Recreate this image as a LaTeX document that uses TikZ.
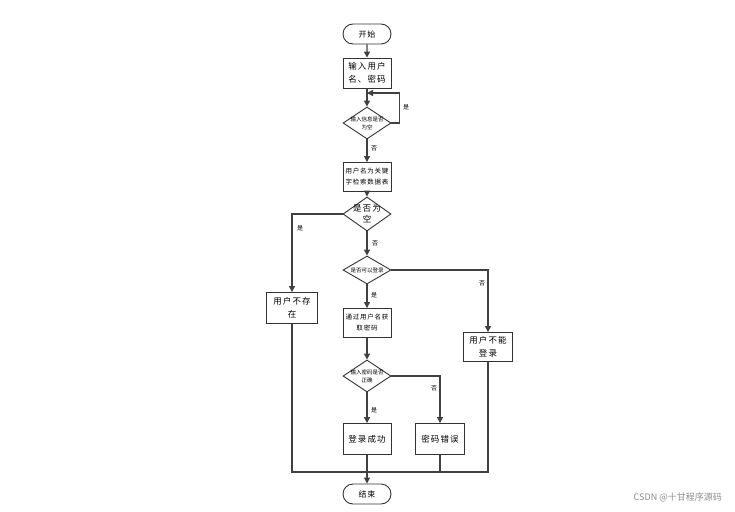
\documentclass[tikz,border=0pt]{standalone}
\usepackage{fontspec}
\setmainfont{Liberation Sans}
\newfontfamily\cjk{Noto Sans CJK SC}[LetterSpace=12]
\newfontfamily\cjkplain{Noto Sans CJK SC}
\usetikzlibrary{shapes.geometric,shapes.misc,arrows.meta}
\begin{document}
\begin{tikzpicture}[x=1pt,y=-1pt,
  every node/.style={inner sep=1pt},
  box/.style={draw=black!80,line width=0.9pt,fill=white,rectangle,minimum width=48pt,minimum height=30pt,align=center,font=\cjk\fontsize{8.5}{13}\selectfont},
  smallbox/.style={box,font=\cjk\fontsize{6.5}{11}\selectfont},
  term/.style={draw=black!80,line width=0.9pt,rounded rectangle,minimum width=50pt,minimum height=20pt,font=\cjk\fontsize{8}{10}\selectfont},
  dec/.style={draw=black!80,line width=0.9pt,diamond,minimum width=48pt,minimum height=32pt,inner sep=0pt},
  dlab/.style={font=\cjkplain\fontsize{5.5}{8}\selectfont,align=center,inner sep=0pt},
  blab/.style={font=\cjk\fontsize{8.5}{11}\selectfont,align=center,inner sep=0pt},
  lab/.style={font=\cjkplain\fontsize{6}{7}\selectfont,inner sep=0pt},
  conn/.style={draw=black!75,line width=1.2pt},
  arr/.style={conn,-{Triangle[length=6pt,width=6pt]}}
]
\useasboundingbox (0,0) rectangle (735,511);

\node[term] (start) at (367,34) {开始};
\node[box] (input) at (367,73) {输入用户\\名、密码};
\node[dec,label={[dlab]center:输入信息是否\\为空}] (d1) at (367,123) {};
\node[smallbox,minimum height=29pt] (search) at (367,177) {用户名为关键\\字检索数据表};
\node[dec,minimum height=34pt,label={[blab]center:是否为\\空}] (d2) at (367,214) {};
\node[dec,minimum height=28pt,label={[dlab]center:是否可以登录}] (d3) at (367,270) {};
\node[box,minimum width=51pt,minimum height=31pt] (noexist) at (292,308) {用户不存\\在};
\node[box,minimum width=49pt,minimum height=29pt] (cannot) at (488,347) {用户不能\\登录};
\node[smallbox,minimum height=29pt] (getpw) at (367,323) {通过用户名获\\取密码};
\node[dec,label={[dlab]center:输入密码是否\\正确}] (d4) at (367,376) {};
\node[box,minimum height=31pt] (ok) at (367,439) {登录成功};
\node[box,minimum width=49pt,minimum height=31pt] (wrong) at (440,439) {密码错误};
\node[term] (end) at (367,494) {结束};

\coordinate (loopend) at (367,93);
\coordinate (merge) at (367,472);

\draw[arr] (start) -- (input);
\draw[arr] (input) -- (d1);
\draw[arr] (d1.east) -- ++(8,0) |- (loopend);
\node[lab] (l1) at (406,107) {是};
\draw[arr] (d1) -- (search);
\node[lab] (l2) at (374,148) {否};
\draw[arr] (search) -- (d2);
\draw[arr] (d2.west) -| (noexist.north);
\node[lab] (l3) at (300,228) {是};
\draw[arr] (d2) -- (d3);
\node[lab] (l4) at (375,243) {否};
\draw[arr] (d3.east) -| (cannot.north);
\node[lab] (l5) at (482,283) {否};
\draw[arr] (d3) -- (getpw);
\node[lab] (l6) at (374,295) {是};
\draw[arr] (getpw) -- (d4);
\draw[arr] (d4.east) -| (wrong.north);
\node[lab] (l7) at (434,388) {否};
\draw[arr] (d4) -- (ok);
\node[lab] (l8) at (374,410) {是};
\draw[arr] (ok) -- (end);
\draw[conn] (noexist.south) |- (merge);
\draw[conn] (cannot.south) |- (merge);
\draw[conn] (wrong.south) |- (merge);

\node[font=\cjkplain\fontsize{9}{10}\selectfont,text=black!45,anchor=east] (wm) at (723,497) {CSDN @十甘程序源码};
\end{tikzpicture}
\end{document}
